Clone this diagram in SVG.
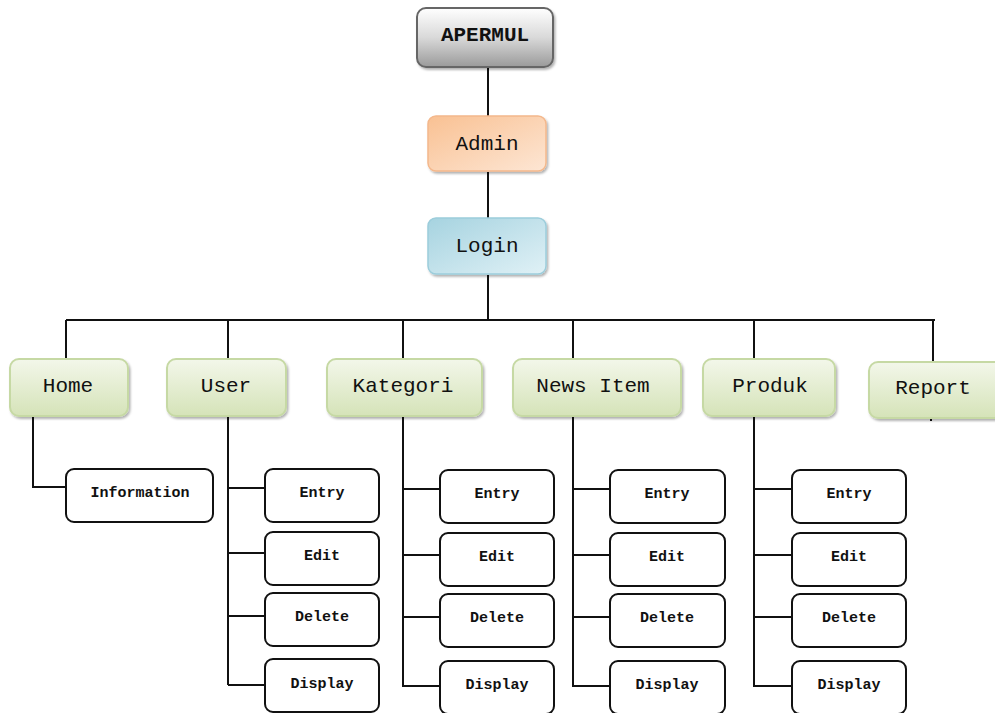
<svg xmlns="http://www.w3.org/2000/svg" width="995" height="713" viewBox="0 0 995 713">
<defs>
<linearGradient id="gGray" x1="0" y1="0" x2="0" y2="1"><stop offset="0" stop-color="#ffffff"/><stop offset="0.5" stop-color="#d9d9d9"/><stop offset="1" stop-color="#9a9a9a"/></linearGradient>
<linearGradient id="gOrange" x1="0" y1="0" x2="1" y2="1"><stop offset="0" stop-color="#f9c193"/><stop offset="1" stop-color="#fde6d4"/></linearGradient>
<linearGradient id="gBlue" x1="0" y1="0" x2="1" y2="1"><stop offset="0" stop-color="#a6d3e0"/><stop offset="1" stop-color="#e0f1f6"/></linearGradient>
<linearGradient id="gGreen" x1="0" y1="0" x2="0" y2="1"><stop offset="0" stop-color="#f3f7ea"/><stop offset="1" stop-color="#d5e3b8"/></linearGradient>
<filter id="sh" x="-10%" y="-10%" width="125%" height="135%"><feDropShadow dx="1.5" dy="2" stdDeviation="1.2" flood-color="#000" flood-opacity="0.3"/></filter>
</defs>
<style>
.ln{stroke:#111;stroke-width:2;fill:none}
.sub{fill:#fff;stroke:#111;stroke-width:2}
.grn{fill:url(#gGreen);stroke:#c6d9a4;stroke-width:2;filter:url(#sh)}
.big{font-family:"Liberation Mono","Courier New",monospace;font-size:21px;fill:#111;text-anchor:middle}
.sm{font-family:"Liberation Mono","Courier New",monospace;font-size:15px;font-weight:bold;fill:#111;text-anchor:middle}
</style>
<g id="connectors">
<path class="ln" d="M488 68V116M488 172V218M488 275V320"/>
<path class="ln" d="M66 320H935M66 320V359M228 320V359M403 320V359M573 320V359M754 320V359M933 320V362"/>
<path class="ln" d="M33 417V487H66"/>
<path class="ln" d="M228 417V685M228 488H265M228 553H265M228 616H265M228 685H265"/>
<path class="ln" d="M403 417V687M403 489H440M403 555H440M403 617H440M403 686H440"/>
<path class="ln" d="M573 417V687M573 489H610M573 555H610M573 617H610M573 686H610"/>
<path class="ln" d="M754 417V687M754 489H792M754 555H792M754 617H792M754 686H792"/>
<path class="ln" d="M931 417V421"/>
</g>
<g id="apermul"><rect x="417" y="8" width="136" height="59" rx="9" fill="url(#gGray)" stroke="#666" stroke-width="2" filter="url(#sh)"/><text class="big" x="485" y="41" font-weight="bold" font-size="20">APERMUL</text></g>
<g id="admin"><rect x="428" y="116" width="118" height="55" rx="8" fill="url(#gOrange)" stroke="#f4b88c" stroke-width="1.5" filter="url(#sh)"/><text class="big" x="487" y="150">Admin</text></g>
<g id="login"><rect x="428" y="218" width="118" height="56" rx="8" fill="url(#gBlue)" stroke="#9ccddb" stroke-width="1.5" filter="url(#sh)"/><text class="big" x="487" y="252">Login</text></g>
<g id="home"><rect class="grn" x="10" y="359" width="118" height="57" rx="9"/><text class="big" x="68" y="392">Home</text></g>
<g id="user"><rect class="grn" x="167" y="359" width="119" height="57" rx="9"/><text class="big" x="226" y="392">User</text></g>
<g id="kategori"><rect class="grn" x="327" y="359" width="155" height="57" rx="9"/><text class="big" x="403" y="392">Kategori</text></g>
<g id="newsitem"><rect class="grn" x="513" y="359" width="168" height="57" rx="9"/><text class="big" x="593" y="392">News Item</text></g>
<g id="produk"><rect class="grn" x="703" y="359" width="132" height="57" rx="9"/><text class="big" x="770" y="392">Produk</text></g>
<g id="report"><rect class="grn" x="869" y="362" width="140" height="56" rx="9"/><text class="big" x="933" y="394">Report</text></g>
<g id="information"><rect class="sub" x="66" y="469" width="147" height="53" rx="8"/><text class="sm" x="140" y="497">Information</text></g>
<g id="user-entry"><rect class="sub" x="265" y="469" width="114" height="53" rx="8"/><text class="sm" x="322" y="497">Entry</text></g>
<g id="user-edit"><rect class="sub" x="265" y="532" width="114" height="53" rx="8"/><text class="sm" x="322" y="560">Edit</text></g>
<g id="user-delete"><rect class="sub" x="265" y="593" width="114" height="53" rx="8"/><text class="sm" x="322" y="621">Delete</text></g>
<g id="user-display"><rect class="sub" x="265" y="659" width="114" height="53" rx="8"/><text class="sm" x="322" y="688">Display</text></g>
<g id="kat-entry"><rect class="sub" x="440" y="470" width="114" height="53" rx="8"/><text class="sm" x="497" y="498">Entry</text></g>
<g id="kat-edit"><rect class="sub" x="440" y="533" width="114" height="53" rx="8"/><text class="sm" x="497" y="561">Edit</text></g>
<g id="kat-delete"><rect class="sub" x="440" y="594" width="114" height="53" rx="8"/><text class="sm" x="497" y="622">Delete</text></g>
<g id="kat-display"><rect class="sub" x="440" y="661" width="114" height="53" rx="8"/><text class="sm" x="497" y="689">Display</text></g>
<g id="news-entry"><rect class="sub" x="610" y="470" width="115" height="53" rx="8"/><text class="sm" x="667" y="498">Entry</text></g>
<g id="news-edit"><rect class="sub" x="610" y="533" width="115" height="53" rx="8"/><text class="sm" x="667" y="561">Edit</text></g>
<g id="news-delete"><rect class="sub" x="610" y="594" width="115" height="53" rx="8"/><text class="sm" x="667" y="622">Delete</text></g>
<g id="news-display"><rect class="sub" x="610" y="661" width="115" height="53" rx="8"/><text class="sm" x="667" y="689">Display</text></g>
<g id="prod-entry"><rect class="sub" x="792" y="470" width="114" height="53" rx="8"/><text class="sm" x="849" y="498">Entry</text></g>
<g id="prod-edit"><rect class="sub" x="792" y="533" width="114" height="53" rx="8"/><text class="sm" x="849" y="561">Edit</text></g>
<g id="prod-delete"><rect class="sub" x="792" y="594" width="114" height="53" rx="8"/><text class="sm" x="849" y="622">Delete</text></g>
<g id="prod-display"><rect class="sub" x="792" y="661" width="114" height="53" rx="8"/><text class="sm" x="849" y="689">Display</text></g>
</svg>
